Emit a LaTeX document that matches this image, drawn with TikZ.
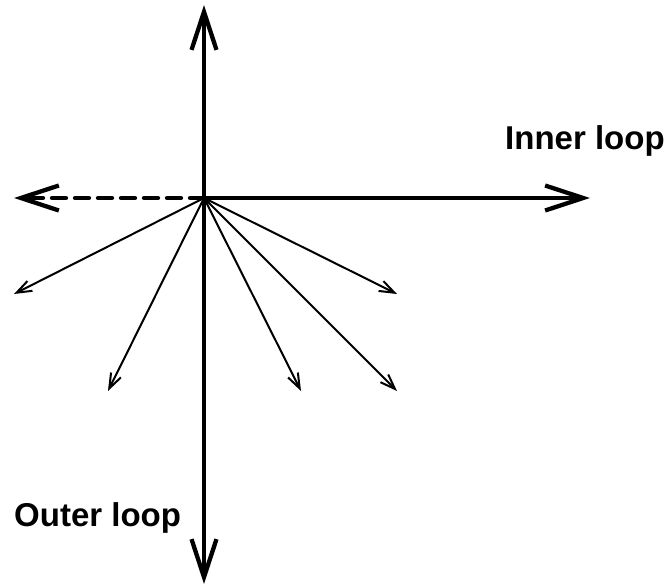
\documentclass[tikz,border=0pt]{standalone}
\usepackage{fontspec}
\setmainfont{Liberation Sans}
\usetikzlibrary{arrows.meta}
\tikzset{
  bigarrow/.style={line width=4.3pt, -{Straight Barb[length=38pt,width=25pt,line width=4.3pt]}, line cap=round},
  smallarrow/.style={line width=2pt, -{Straight Barb[length=15pt,width=11pt,line width=2pt]}, line cap=round},
  lbl/.style={font=\bfseries\fontsize{33}{39}\selectfont, inner sep=0pt, anchor=base west}
}
\begin{document}
\begin{tikzpicture}[x=1pt,y=-1pt]
\useasboundingbox (0,0) rectangle (667,588);
\coordinate (o) at (204,198);
\coordinate (up) at (204,5);
\coordinate (dn) at (204,584);
\coordinate (rt) at (590,198);
\coordinate (lt) at (14,198);
\coordinate (a1) at (14,294);
\coordinate (a2) at (108,391);
\coordinate (a3) at (301,391);
\coordinate (a4) at (397,391);
\coordinate (a5) at (397,294);
\draw[bigarrow] (o) -- (up);
\draw[bigarrow] (o) -- (dn);
\draw[bigarrow] (o) -- (rt);
\draw[bigarrow, dash pattern=on 14pt off 9pt] (o) -- (lt);
\foreach \p in {a1,a2,a3,a4,a5} \draw[smallarrow] (o) -- (\p);
\node[lbl] (inner) at (505,150) {Inner loop};
\node[lbl] (outer) at (14,526) {Outer loop};
\end{tikzpicture}
\end{document}
